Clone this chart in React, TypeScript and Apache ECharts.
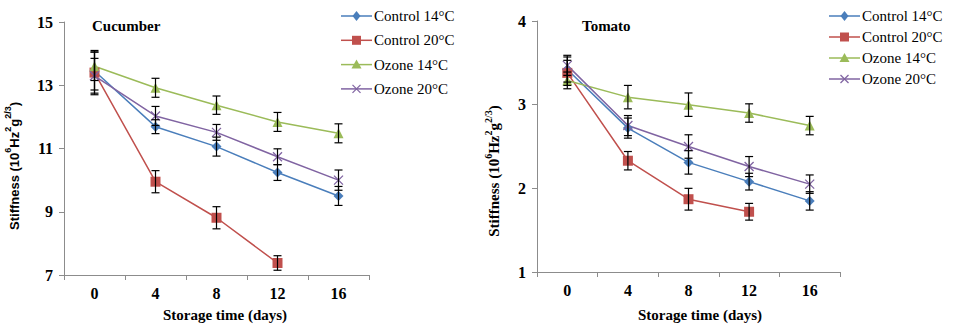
import React, { useEffect, useRef } from "react";
import * as echarts from "echarts";

const categories = ["0", "4", "8", "12", "16"];
const seriesNames = ["Control 14°C", "Control 20°C", "Ozone 14°C", "Ozone 20°C"];
const seriesColors = ["#4A7EBB", "#C0504D", "#9BBB59", "#8064A2"];
const seriesSymbols = ["diamond", "rect", "triangle", "path://M0,0L10,10M10,0L0,10"];
const symbolSizes = [10, 10, 10, 9];

// Cucumber
const cucControl14 = [13.45, 11.69, 11.06, 10.24, 9.5];
const cucControl20 = [13.4, 9.95, 8.81, 7.38];
const cucOzone14 = [13.6, 12.92, 12.37, 11.84, 11.48];
const cucOzone20 = [13.3, 12.03, 11.51, 10.74, 10.0];
const cucControl14Err = [0.6, 0.22, 0.3, 0.25, 0.3];
const cucControl20Err = [0.7, 0.35, 0.35, 0.23];
const cucOzone14Err = [0.45, 0.3, 0.29, 0.3, 0.3];
const cucOzone20Err = [0.55, 0.3, 0.25, 0.25, 0.32];

// Tomato
const tomControl14 = [3.42, 2.72, 2.31, 2.08, 1.85];
const tomControl20 = [3.38, 2.33, 1.87, 1.72];
const tomOzone14 = [3.29, 3.09, 3.0, 2.9, 2.75];
const tomOzone20 = [3.47, 2.75, 2.5, 2.26, 2.05];
const tomControl14Err = [0.15, 0.12, 0.14, 0.1, 0.11];
const tomControl20Err = [0.15, 0.11, 0.13, 0.1];
const tomOzone14Err = [0.1, 0.14, 0.14, 0.11, 0.11];
const tomOzone20Err = [0.12, 0.12, 0.14, 0.12, 0.11];

const cucTicks = [7, 9, 11, 13, 15];
const tomTicks = [1, 2, 3, 4];

const FONT = "Liberation Serif";
const SANS = "Liberation Sans";
const AXIS_GRAY = "#8C8C8C";

function errorData(vals: number[], errs: number[]) {
  return vals.map((v, i) => [i, v - errs[i], v + errs[i]]);
}

function errorSeries(axisIndex: number, vals: number[], errs: number[]) {
  return {
    type: "custom",
    name: "err" + axisIndex,
    xAxisIndex: axisIndex,
    yAxisIndex: axisIndex,
    z: 5,
    silent: true,
    encode: { x: 0, y: [1, 2] },
    data: errorData(vals, errs),
    renderItem: (params: any, api: any) => {
      const x = api.value(0);
      const lo = api.coord([x, api.value(1)]);
      const hi = api.coord([x, api.value(2)]);
      const w = 4;
      const style = { stroke: "#000", lineWidth: 1.2 };
      return {
        type: "group",
        children: [
          { type: "line", shape: { x1: hi[0], y1: hi[1], x2: lo[0], y2: lo[1] }, style },
          { type: "line", shape: { x1: hi[0] - w, y1: hi[1], x2: hi[0] + w, y2: hi[1] }, style },
          { type: "line", shape: { x1: lo[0] - w, y1: lo[1], x2: lo[0] + w, y2: lo[1] }, style },
        ],
      };
    },
  };
}

function lineSeries(axisIndex: number, idx: number, vals: number[]) {
  const isX = idx === 3;
  return {
    type: "line",
    name: seriesNames[idx],
    xAxisIndex: axisIndex,
    yAxisIndex: axisIndex,
    data: vals,
    symbol: seriesSymbols[idx],
    symbolSize: symbolSizes[idx],
    showAllSymbol: true,
    lineStyle: { color: seriesColors[idx], width: 1.5 },
    itemStyle: isX
      ? { color: "rgba(0,0,0,0)", borderColor: seriesColors[idx], borderWidth: 1.3 }
      : { color: seriesColors[idx], borderWidth: 0 },
    z: 3,
  };
}

function xAxis(gridIndex: number) {
  return {
    type: "category",
    gridIndex,
    data: categories,
    boundaryGap: true,
    axisLine: { lineStyle: { color: AXIS_GRAY, width: 1 } },
    axisTick: { show: true, length: 5, lineStyle: { color: AXIS_GRAY } },
    axisLabel: { color: "#000", fontFamily: FONT, fontWeight: "bold", fontSize: 16, margin: 10 },
    splitLine: { show: false },
  };
}

function yAxis(gridIndex: number, min: number, max: number, ticks: number[]) {
  return {
    type: "value",
    gridIndex,
    min,
    max,
    axisLine: { show: true, lineStyle: { color: AXIS_GRAY, width: 1 } },
    axisTick: { show: true, length: 5, lineStyle: { color: AXIS_GRAY }, customValues: ticks },
    axisLabel: {
      color: "#000",
      fontFamily: FONT,
      fontWeight: "bold",
      fontSize: 16,
      margin: 11,
      customValues: ticks,
    },
    splitLine: { show: false },
  };
}

function yName(x: number, y: number, family: string, size: number, supSize: number) {
  return {
    type: "text",
    x,
    y,
    rotation: Math.PI / 2,
    style: {
      text: "{b|Stiffness (10}{s|6}{b|Hz}{s|2}{b|g}{s|2/3}{b|)}",
      align: "center",
      verticalAlign: "middle",
      rich: {
        b: { fontFamily: family, fontWeight: "bold", fontSize: size, lineHeight: 22, fill: "#000" },
        s: { fontFamily: family, fontWeight: "bold", fontSize: supSize, lineHeight: 10, verticalAlign: "top", fill: "#000" },
      },
    },
  };
}

function textEl(text: string, x: number, y: number, align: string) {
  return {
    type: "text",
    x,
    y,
    style: {
      text,
      align,
      verticalAlign: "middle",
      fontFamily: FONT,
      fontWeight: "bold",
      fontSize: 15,
      fill: "#000",
    },
  };
}

function legendMarker(idx: number, cx: number, cy: number) {
  const c = seriesColors[idx];
  if (idx === 0) {
    return { type: "polygon", shape: { points: [[cx, cy - 5], [cx + 4, cy], [cx, cy + 5], [cx - 4, cy]] }, style: { fill: c } };
  }
  if (idx === 1) {
    return { type: "rect", shape: { x: cx - 4.5, y: cy - 4.5, width: 9, height: 9 }, style: { fill: c } };
  }
  if (idx === 2) {
    return { type: "polygon", shape: { points: [[cx, cy - 5], [cx + 5, cy + 4], [cx - 5, cy + 4]] }, style: { fill: c } };
  }
  return {
    type: "group",
    children: [
      { type: "line", shape: { x1: cx - 4, y1: cy - 4, x2: cx + 4, y2: cy + 4 }, style: { stroke: c, lineWidth: 1.2 } },
      { type: "line", shape: { x1: cx + 4, y1: cy - 4, x2: cx - 4, y2: cy + 4 }, style: { stroke: c, lineWidth: 1.2 } },
    ],
  };
}

function legendGraphic(left: number, top: number, step: number) {
  const items: any[] = [];
  seriesNames.forEach((name, i) => {
    const y = top + i * step;
    items.push({ type: "line", shape: { x1: left, y1: y, x2: left + 31, y2: y }, style: { stroke: seriesColors[i], lineWidth: 1.5 } });
    items.push(legendMarker(i, left + 15.5, y));
    items.push({
      type: "text",
      x: left + 33,
      y,
      style: { text: name, align: "left", verticalAlign: "middle", fontFamily: FONT, fontSize: 15, fill: "#000" },
    });
  });
  return { type: "group", children: items };
}

export default function App() {
  const ref = useRef<HTMLDivElement>(null);
  useEffect(() => {
    if (!ref.current) return;
    const chart = echarts.init(ref.current, undefined, { renderer: "svg" });
    const option: any = {
      animation: false,
      backgroundColor: "#fff",
      textStyle: { fontFamily: FONT },
      grid: [
        { left: 64, top: 22, width: 305, height: 253 },
        { left: 537, top: 21, width: 303, height: 251 },
      ],
      xAxis: [xAxis(0), xAxis(1)],
      yAxis: [yAxis(0, 7, 15, cucTicks), yAxis(1, 1, 4, tomTicks)],
      graphic: [
        textEl("Cucumber", 92, 26, "left"),
        textEl("Tomato", 582, 26, "left"),
        textEl("Storage time (days)", 225, 315, "center"),
        textEl("Storage time (days)", 700, 315, "center"),
        yName(14, 166, SANS, 13, 9),
        yName(494, 171, FONT, 15, 10),
        legendGraphic(341, 16, 24.3),
        legendGraphic(829, 16, 21),
      ],
      series: [
        lineSeries(0, 0, cucControl14),
        lineSeries(0, 1, cucControl20),
        lineSeries(0, 2, cucOzone14),
        lineSeries(0, 3, cucOzone20),
        errorSeries(0, cucControl14, cucControl14Err),
        errorSeries(0, cucControl20, cucControl20Err),
        errorSeries(0, cucOzone14, cucOzone14Err),
        errorSeries(0, cucOzone20, cucOzone20Err),
        lineSeries(1, 0, tomControl14),
        lineSeries(1, 1, tomControl20),
        lineSeries(1, 2, tomOzone14),
        lineSeries(1, 3, tomOzone20),
        errorSeries(1, tomControl14, tomControl14Err),
        errorSeries(1, tomControl20, tomControl20Err),
        errorSeries(1, tomOzone14, tomOzone14Err),
        errorSeries(1, tomOzone20, tomOzone20Err),
      ],
    };
    chart.setOption(option);
    return () => chart.dispose();
  }, []);
  return (
    <div
      ref={ref}
      style={{ position: "fixed", left: 0, top: 0, width: 953, height: 326 }}
    />
  );
}
